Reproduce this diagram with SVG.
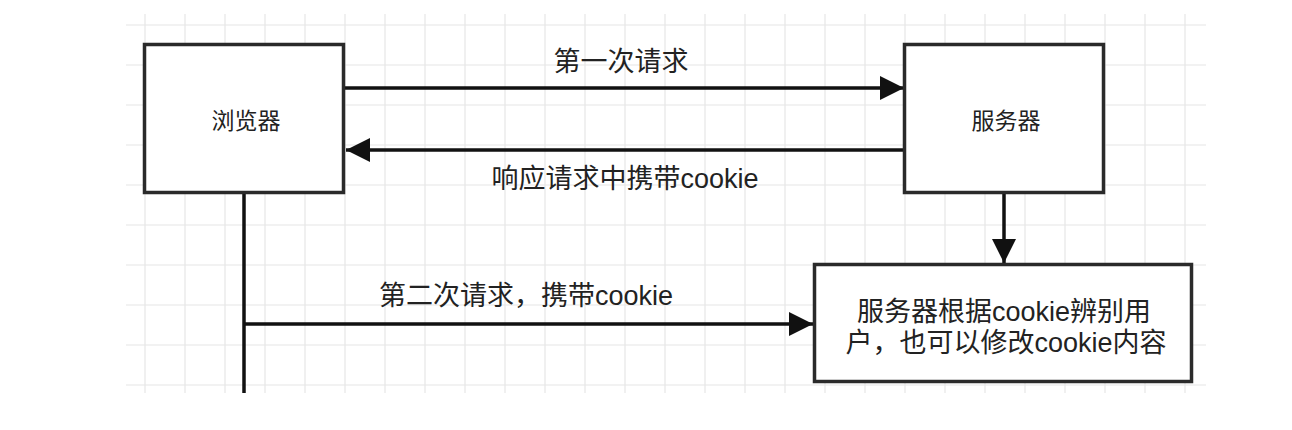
<svg xmlns="http://www.w3.org/2000/svg" width="1292" height="430" viewBox="0 0 1292 430">
  <defs>
    <pattern id="grid" x="125" y="5" width="40" height="40" patternUnits="userSpaceOnUse">
      <path d="M 20 0 V 40 M 0 20 H 40" fill="none" stroke="#e6e6e6" stroke-width="1.2"/>
    </pattern>
    <marker id="arrow" viewBox="0 0 24 24" refX="24" refY="12" markerWidth="24" markerHeight="24" markerUnits="userSpaceOnUse" orient="auto">
      <path d="M 0 0 L 24 12 L 0 24 Z" fill="#111"/>
    </marker>
  </defs>
  <style>
    .box { fill: #ffffff; stroke: #2a2a2a; stroke-width: 3.5; }
    .conn { fill: none; stroke: #111; stroke-width: 3.5; }
    .lbl { font-family: "Liberation Sans", "Noto Sans CJK SC", sans-serif; fill: #222; text-anchor: middle; }
    .edge { font-size: 27px; }
    .node { font-size: 23px; }
  </style>
  <rect x="0" y="0" width="1292" height="430" fill="#ffffff"/>
  <rect x="126" y="14" width="1080" height="379" fill="url(#grid)"/>

  <g id="connectors">
    <line class="conn" x1="345" y1="88" x2="904" y2="88" marker-end="url(#arrow)"/>
    <line class="conn" x1="904" y1="150" x2="346" y2="150" marker-end="url(#arrow)"/>
    <line class="conn" x1="1004" y1="193" x2="1004" y2="263" marker-end="url(#arrow)"/>
    <line class="conn" x1="244" y1="193" x2="244" y2="393"/>
    <line class="conn" x1="244" y1="324" x2="813" y2="324" marker-end="url(#arrow)"/>
    <text class="lbl edge" x="621" y="71">第一次请求</text>
    <text class="lbl edge" x="625" y="188">响应请求中携带cookie</text>
    <text class="lbl edge" x="526" y="305">第二次请求，携带cookie</text>
  </g>

  <g id="browser">
    <rect class="box" x="144.5" y="44.5" width="199" height="148"/>
    <text class="lbl node" x="246" y="129">浏览器</text>
  </g>

  <g id="server">
    <rect class="box" x="904.5" y="44.5" width="199" height="148"/>
    <text class="lbl node" x="1006" y="129">服务器</text>
  </g>

  <g id="server-identify">
    <rect class="box" x="814.5" y="264.5" width="377" height="117"/>
    <text class="lbl edge" x="1004" y="321">服务器根据cookie辨别用</text>
    <text class="lbl edge" x="1006" y="352">户，也可以修改cookie内容</text>
  </g>
</svg>
